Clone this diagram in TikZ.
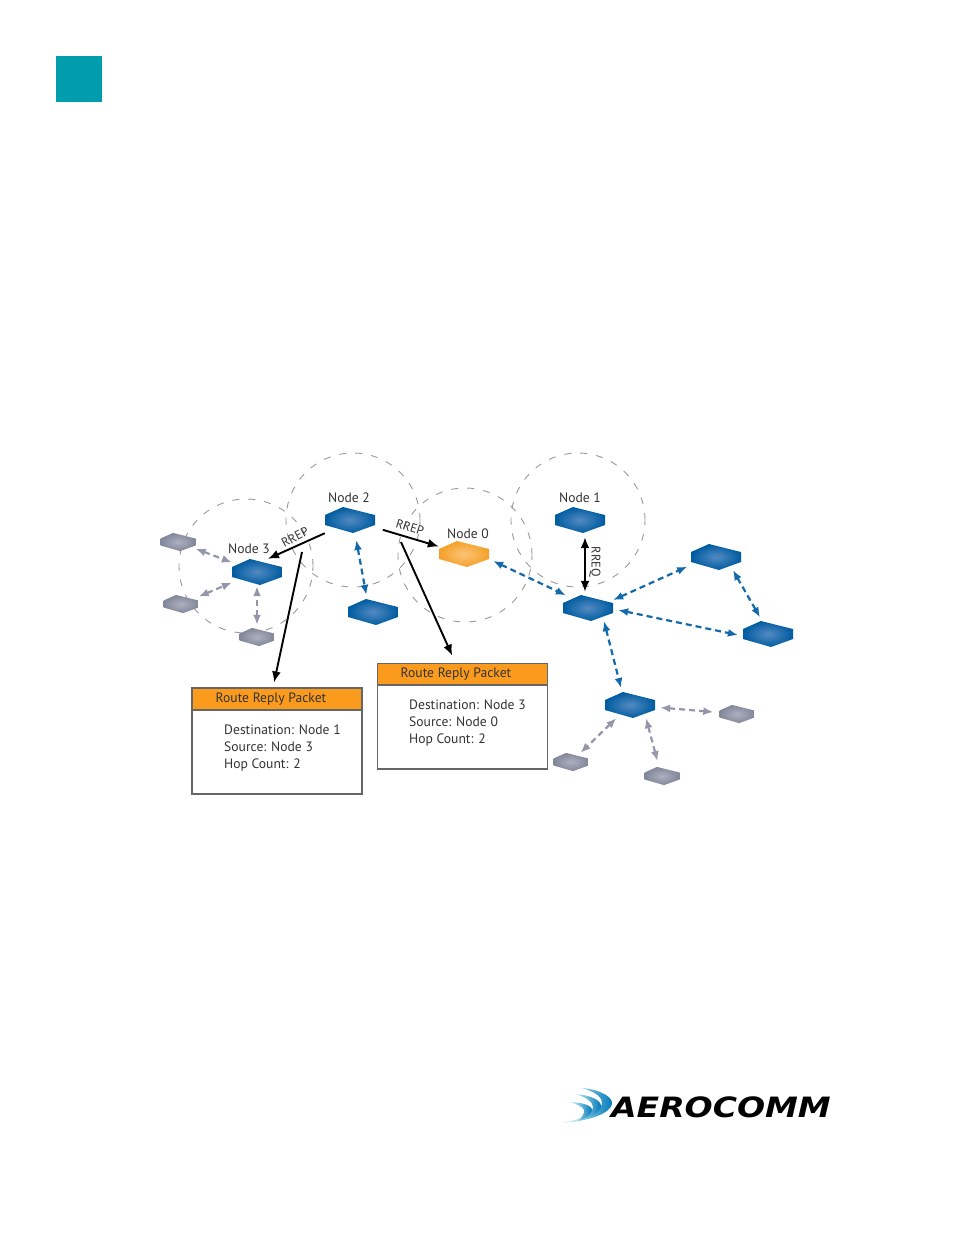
\documentclass[tikz,border=0pt]{standalone}
\usepackage{fontspec}
\setmainfont{PT Sans}
\newfontfamily\logofont{DejaVu Sans}
\usepackage{xcolor}
\usetikzlibrary{arrows.meta, positioning, calc}

\definecolor{devblue}{RGB}{0,92,160}
\definecolor{devlight}{RGB}{84,138,194}
\definecolor{devorange}{RGB}{246,160,40}
\definecolor{devpeach}{RGB}{250,196,120}
\definecolor{devgrey}{RGB}{130,134,154}
\definecolor{devpale}{RGB}{172,176,190}
\definecolor{hdrorange}{RGB}{250,155,30}
\definecolor{linkblue}{RGB}{20,105,170}
\definecolor{linkgrey}{RGB}{148,150,170}
\definecolor{tabteal}{RGB}{0,158,172}
\definecolor{swoosh}{RGB}{0,120,185}

\newcommand{\devhex}[3]{%
  \shade[inner color=#2, outer color=#3, shift={(path picture bounding box.center)}, x=#1pt, y=-#1pt]
    (-7,-13) -- (25,-5) -- (25,5) -- (3,13) -- (-25,5) -- (-25,-5) -- cycle;}

\begin{document}
\begin{tikzpicture}[x=1pt, y=-1pt,
  devb/.style={minimum width=50pt, minimum height=26pt, inner sep=0pt,
    path picture={\devhex{1}{devlight}{devblue}}},
  devo/.style={minimum width=50pt, minimum height=26pt, inner sep=0pt,
    path picture={\devhex{1}{devpeach}{devorange}}},
  devg/.style={minimum width=35pt, minimum height=18pt, inner sep=0pt,
    path picture={\devhex{0.7}{devpale}{devgrey}}},
  radiorange/.style={circle, draw=black!40, dash pattern=on 7pt off 9pt, line width=0.9pt,
    minimum size=134pt, inner sep=0pt},
  lbl/.style={font=\fontsize{13.6}{17}\selectfont, text=black!80, inner sep=0pt},
  msg/.style={lbl, font=\fontsize{12.5}{15}\selectfont},
  linkb/.style={{Latex[length=10pt,width=8pt]}-{Latex[length=10pt,width=8pt]}, linkblue,
    line width=2.2pt, dash pattern=on 6pt off 4pt, shorten <=0pt, shorten >=4pt},
  linkg/.style={linkb, linkgrey},
  rep/.style={-{Latex[length=11pt,width=9pt]}, black, line width=1.9pt},
  pkthead/.style={draw=black!60, line width=1.3pt, fill=hdrorange, minimum width=170pt,
    minimum height=22pt, inner sep=0pt},
  pktbody/.style={draw=black!60, line width=1.3pt, fill=white, minimum width=170pt,
    inner sep=0pt},
  pkttext/.style={lbl, align=left, anchor=west}
]
\useasboundingbox (0,0) rectangle (954,1235);

%% page tab
\node[fill=tabteal, minimum size=46pt, inner sep=0pt] (tab) at (79,79) {};

%% radio ranges
\node[radiorange] (range3) at (246,566) {};
\node[radiorange] (range2) at (353,520) {};
\node[radiorange] (range0) at (465,555) {};
\node[radiorange] (range1) at (578,520) {};

%% devices
\node[devb] (node2) at (350,520) {};
\node[devb] (node3) at (257,572) {};
\node[devo] (node0) at (464,554) {};
\node[devb] (node1) at (580,520) {};
\node[devb] (lower) at (373,612) {};
\node[devb] (hub)   at (588,608) {};
\node[devb] (upper) at (716,557) {};
\node[devb] (east)  at (768,634) {};
\node[devb] (south) at (630,705) {};

\node[devg] (endA) at (178,542) {};
\node[devg] (endB) at (181,604) {};
\node[devg] (endC) at (257,637) {};
\node[devg] (endD) at (737,714) {};
\node[devg] (endE) at (571,762) {};
\node[devg] (endF) at (662,776) {};

%% device names
\node[lbl] (name2) at (349,497.5) {Node 2};
\node[lbl] (name3) at (249,548.5) {Node 3};
\node[lbl] (name0) at (468,533.5) {Node 0};
\node[lbl] (name1) at (580,497.5) {Node 1};

%% packets
\node[pkthead] (headA) at (277,699) {};
\node[pktbody, minimum height=84pt] (bodyA) at (277,752) {};
\node[pkthead] (headB) at (462.5,674.5) {};
\node[pktbody, minimum height=84pt] (bodyB) at (462.5,727) {};

\node[lbl] (titleA) at (271,699) {Route Reply Packet};
\node[lbl] (titleB) at (456,674) {Route Reply Packet};
\node[pkttext] (infoA) at (224,748) {Destination: Node 1\\Source: Node 3\\Hop Count: 2};
\node[pkttext] (infoB) at (409,723) {Destination: Node 3\\Source: Node 0\\Hop Count: 2};

%% blue links
\draw[linkb, shorten <=7pt] ([xshift=5pt]node2.south) -- ([xshift=-6pt]lower.north);
\draw[linkb, shorten >=-1pt] ([xshift=4pt,yshift=-7pt]node0.east) -- ([xshift=-23pt]hub.north);
\draw[linkb] ([yshift=8pt]hub.east) -- ([yshift=-8pt]upper.west);
\draw[linkb, shorten >=5pt] ([xshift=5pt,yshift=-2pt]hub.east) -- ([yshift=-2pt]east.west);
\draw[linkb] ([xshift=17pt]upper.south) -- ([xshift=-6pt]east.north);
\draw[linkb] ([xshift=16pt]hub.south) -- ([xshift=-8pt]south.north);

%% grey links
\draw[linkg, shorten >=0pt] (endA) -- (node3);
\draw[linkg, shorten >=0pt] (endB) -- (node3);
\draw[linkg, shorten <=3pt, shorten >=1pt] (endC) -- (node3);
\draw[linkg, shorten <=5pt, shorten >=6pt] (south) -- (endD);
\draw[linkg, shorten >=0pt] (south) -- (endE);
\draw[linkg, shorten >=6pt] ([xshift=16pt]south.south) -- ([xshift=-3pt]endF.north);

%% route messages
\draw[rep] (node2.south west) -- ([xshift=11pt]node3.north);
\draw[rep, shorten <=8pt] (node2) -- (node0);
\draw[rep, {Latex[length=11pt,width=9pt]}-{Latex[length=11pt,width=9pt]}, shorten <=4pt, shorten >=3pt]
  ([xshift=5pt]node1.south) -- ([xshift=-3pt]hub.north);

\coordinate (tailA) at (302,552);
\coordinate (tailB) at (401,542);
\draw[rep, shorten >=5pt] (tailA) -- ([xshift=-4pt]headA.north);
\draw[rep, shorten >=8pt] (tailB) -- ([xshift=-7pt]headB.north);

\node[msg, rotate=28] (rrepA) at (295,537) {RREP};
\node[msg, rotate=-17] (rrepB) at (410,527) {RREP};
\node[msg, rotate=-90] (rreq) at (595,562) {RREQ};

%% logo
\shade[left color=cyan!12!white, right color=swoosh]
  (582,1088) .. controls (603,1090) and (613,1098) .. (612,1104)
  .. controls (610,1114) and (588,1121) .. (562,1123)
  .. controls (584,1119) and (600,1112) .. (602,1104)
  .. controls (603,1098) and (596,1092) .. (582,1088) -- cycle;
\shade[left color=cyan!12!white, right color=swoosh]
  (575,1094) .. controls (590,1095) and (601,1100) .. (601,1106)
  .. controls (601,1112) and (590,1118) .. (572,1122)
  .. controls (584,1118) and (593,1112) .. (593,1107)
  .. controls (593,1102) and (586,1097) .. (575,1094) -- cycle;
\shade[left color=cyan!12!white, right color=swoosh]
  (569,1102) .. controls (580,1102) and (592,1105) .. (592,1110)
  .. controls (592,1114) and (586,1118) .. (578,1121)
  .. controls (582,1117) and (585,1113) .. (584,1110)
  .. controls (583,1107) and (577,1104) .. (569,1102) -- cycle;
\node[font=\fontsize{28}{28}\selectfont\logofont\bfseries\itshape,
  inner sep=0pt, xscale=1.18, text=black] (logo) at (721,1107) {AEROCOMM};

\end{tikzpicture}
\end{document}
